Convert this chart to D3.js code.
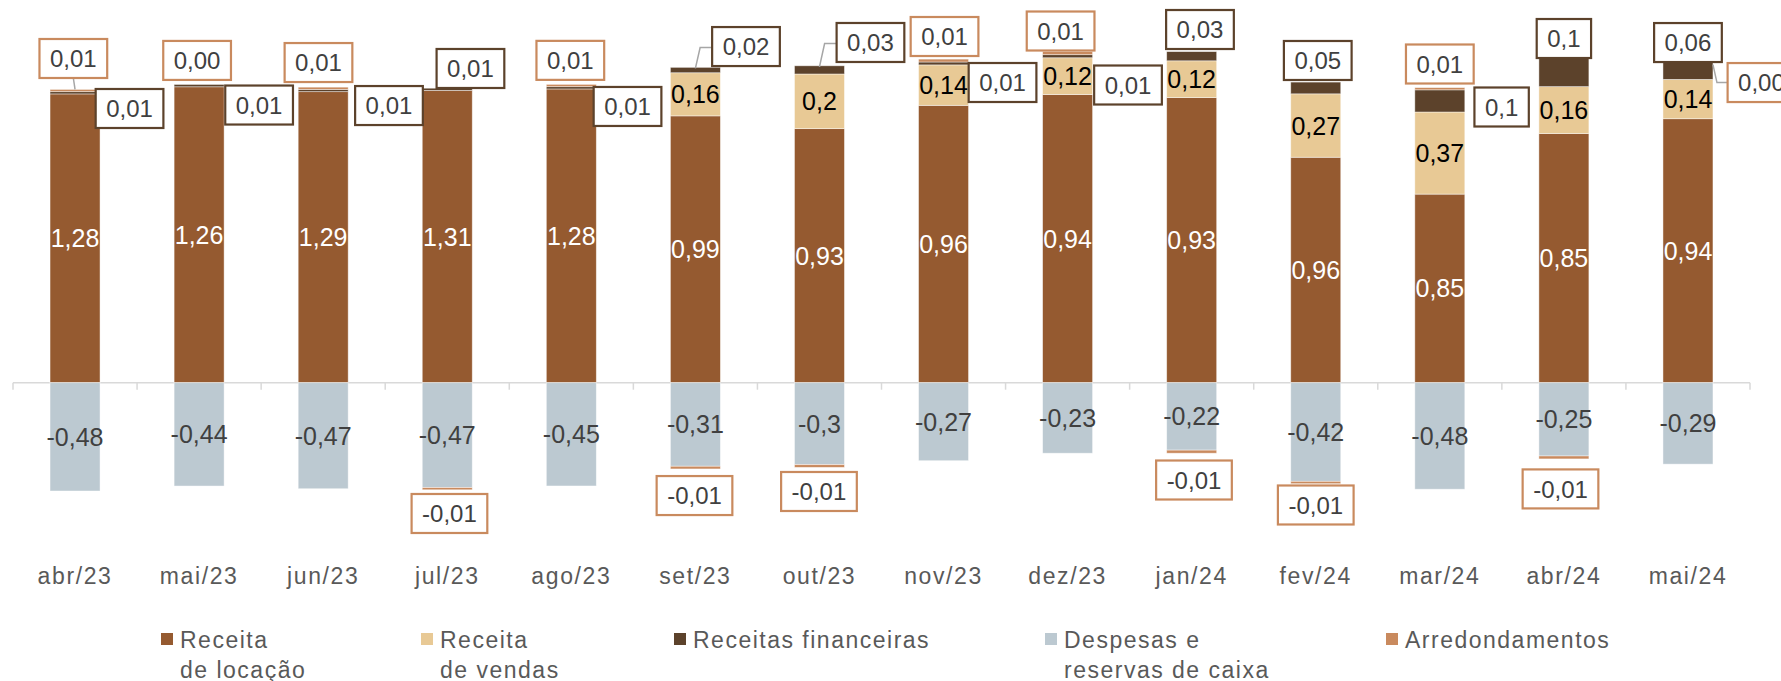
<!DOCTYPE html>
<html>
<head>
<meta charset="utf-8">
<script src="https://cdn.jsdelivr.net/npm/d3@7"></script>
<style>
    body { margin: 0; background: #fff; }
    text { font-family: "Liberation Sans", Arial, sans-serif; }
</style>
</head>
<body>
<div id="chart"></div>
<script>
"use strict";

// data
const meses = ["abr/23", "mai/23", "jun/23", "jul/23", "ago/23", "set/23", "out/23",
    "nov/23", "dez/23", "jan/24", "fev/24", "mar/24", "abr/24", "mai/24"];
const receitaLocacao = [1.28, 1.26, 1.29, 1.31, 1.28, 0.99, 0.93, 0.96, 0.94, 0.93, 0.96, 0.85, 0.85, 0.94];
const receitaVendas = [0, 0, 0, 0, 0, 0.16, 0.2, 0.14, 0.12, 0.12, 0.27, 0.37, 0.16, 0.14];
const receitasFinanceiras = [0.01, 0.01, 0.01, 0.01, 0.01, 0.02, 0.03, 0.01, 0.01, 0.03, 0.05, 0.1, 0.1, 0.06];
const despesas = [-0.48, -0.44, -0.47, -0.47, -0.45, -0.31, -0.3, -0.27, -0.23, -0.22, -0.42, -0.48, -0.25, -0.29];
const arredondamentos = [0.01, 0, 0.01, -0.01, 0.01, -0.01, -0.01, 0.01, 0.01, -0.01, -0.01, 0.01, -0.01, 0];
const legendLabels = [["Receita", "de locação"], ["Receita", "de vendas"], ["Receitas financeiras"],
    ["Despesas e", "reservas de caixa"], ["Arredondamentos"]];

// layout
const msm = { width: 1781, height: 681, left: 13, right: 1750, zeroY: 382.7, full: 401.6 };
const colors = {
    loc: "#955a30", vendas: "#e8c995", fin: "#5c422b", desp: "#bcc9d1", arr: "#c98a5e"
};
// callout box centre offsets from bar centre / stack edge, plus leader type
const finCallout = [[54.5, 19.1, ""], [60, 20.6, ""], [65.8, 18.4, ""], [23.2, -19.7, ""], [56.2, 22.1, ""],
    [50.6, -20.8, "elbowLeft"], [51, -23.3, "elbowLeft"], [59, 23.4, ""], [60.4, 33.4, ""], [8.3, -22.1, ""],
    [2, -21.6, ""], [61.8, 19.4, ""], [0, -18.8, ""], [0, -20, ""]];
const arrCallout = [[-1.7, -30.9, "down"], [-2, -24, ""], [-4.7, -24.6, ""], [2.2, 23.7, ""], [-1, -24, ""],
    [-0.9, 26.6, ""], [-0.5, 24.1, ""], [1, -22.6, ""], [-7, -20.6, ""], [2.3, 26.8, ""],
    [0, 21.3, ""], [0, -23.6, ""], [-3.4, 30, ""], [73.5, 20, "elbowRight"]];
const legendX = [161, 421, 674, 1045, 1386];

const svg = d3.select("#chart").append("svg")
    .attr("width", msm.width)
    .attr("height", msm.height);

const x = d3.scaleBand()
    .domain(meses)
    .range([msm.left, msm.right])
    .paddingInner(0.597)
    .paddingOuter(0.2985);

const y = d3.scaleLinear()
    .domain([-1, 1])
    .range([msm.zeroY + msm.full, msm.zeroY - msm.full]);

const comma = (v) => String(v).replace(".", ",");

// 100% stacked: every value is a share of the absolute total of its month
const bars = meses.map((m, i) => {
    const tot = receitaLocacao[i] + receitaVendas[i] + receitasFinanceiras[i]
        + Math.abs(despesas[i]) + Math.abs(arredondamentos[i]);
    const segs = [];
    let top = 0, bot = 0;
    const pos = [["loc", receitaLocacao[i]], ["vendas", receitaVendas[i]], ["fin", receitasFinanceiras[i]]];
    if (arredondamentos[i] > 0) pos.push(["arr", arredondamentos[i]]);
    pos.forEach(([k, v]) => {
        const s = v / tot;
        segs.push({ key: k, v: v, y0: top, y1: top + s });
        top += s;
    });
    const neg = [["desp", despesas[i]]];
    if (arredondamentos[i] < 0) neg.push(["arr", arredondamentos[i]]);
    neg.forEach(([k, v]) => {
        const s = v / tot;
        segs.push({ key: k, v: v, y0: bot + s, y1: bot });
        bot += s;
    });
    return { mes: m, i: i, segs: segs, top: top, bot: bot };
});

// axis line and ticks
svg.append("line")
    .attr("x1", msm.left).attr("x2", msm.right)
    .attr("y1", y(0)).attr("y2", y(0))
    .attr("stroke", "#d9d9d9").attr("stroke-width", 1.5);

const bounds = meses.map((m) => x(m) + x.bandwidth() / 2 - x.step() / 2);
bounds.push(msm.right);
svg.selectAll(".tick")
    .data(bounds)
    .enter()
    .append("line")
    .attr("x1", (d) => d).attr("x2", (d) => d)
    .attr("y1", y(0)).attr("y2", y(0) + 7)
    .attr("stroke", "#d9d9d9").attr("stroke-width", 1.5);

// bars
const g = svg.selectAll(".bar")
    .data(bars)
    .enter()
    .append("g")
    .attr("class", "bar");

g.selectAll("rect")
    .data((d) => d.segs.map((s) => Object.assign({ mes: d.mes }, s)))
    .enter()
    .append("rect")
    .attr("x", (d) => x(d.mes))
    .attr("width", x.bandwidth())
    .attr("y", (d) => y(d.y1))
    .attr("height", (d) => y(d.y0) - y(d.y1))
    .attr("fill", (d) => colors[d.key])
    .attr("stroke", "rgba(255,255,255,0.55)")
    .attr("stroke-width", 0.8);

// inner labels
const inner = [];
bars.forEach((b) => {
    b.segs.forEach((s) => {
        if (s.key === "loc" || s.key === "desp" || (s.key === "vendas" && s.v > 0)) {
            inner.push({ mes: b.mes, key: s.key, v: s.v, yc: (s.y0 + s.y1) / 2 });
        }
    });
});
svg.selectAll(".inner")
    .data(inner)
    .enter()
    .append("text")
    .attr("x", (d) => x(d.mes) + x.bandwidth() / 2)
    .attr("y", (d) => y(d.yc))
    .attr("dy", "0.36em")
    .attr("text-anchor", "middle")
    .style("font-size", "25px")
    .attr("fill", (d) => d.key === "loc" ? "#ffffff" : (d.key === "vendas" ? "#000000" : "#404040"))
    .text((d) => comma(d.v));

// callouts
function callout(b, label, off, stroke, edgeY) {
    const cx = x(b.mes) + x.bandwidth() / 2;
    const bx = cx + off[0];
    const by = edgeY + off[1];
    const grp = svg.append("g");
    const t = grp.append("text")
        .attr("x", bx).attr("y", by)
        .attr("dy", "0.36em")
        .attr("text-anchor", "middle")
        .style("font-size", "24px")
        .attr("fill", "#404040")
        .text(label);
    const w = t.node().getComputedTextLength() + 21;
    const h = 39;
    grp.insert("rect", "text")
        .attr("x", bx - w / 2).attr("y", by - h / 2)
        .attr("width", w).attr("height", h)
        .attr("fill", "#fff")
        .attr("stroke", stroke).attr("stroke-width", 2.2);
    let pts = null;
    if (off[2] === "down") {
        pts = [[bx, by + h / 2], [cx, edgeY]];
    } else if (off[2] === "elbowLeft") {
        pts = [[cx, edgeY + 1], [bx - w / 2 - 12, by + 1], [bx - w / 2, by + 1]];
    } else if (off[2] === "elbowRight") {
        pts = [[cx + x.bandwidth() / 2, edgeY + 2], [cx + x.bandwidth() / 2 + 4, by], [bx - w / 2, by]];
    }
    if (pts) {
        grp.insert("path", "rect")
            .attr("d", d3.line()(pts))
            .attr("fill", "none")
            .attr("stroke", "#a6a6a6")
            .attr("stroke-width", 1.5);
    }
}

bars.forEach((b) => {
    const i = b.i;
    callout(b, comma(receitasFinanceiras[i]), finCallout[i], colors.fin, y(b.top));
    const a = arredondamentos[i];
    callout(b, a.toFixed(2).replace(".", ","), arrCallout[i], colors.arr, a < 0 ? y(b.bot) : y(b.top));
});

// category labels
svg.selectAll(".cat")
    .data(meses)
    .enter()
    .append("text")
    .attr("x", (d) => x(d) + x.bandwidth() / 2)
    .attr("y", 584)
    .attr("text-anchor", "middle")
    .style("font-size", "23px")
    .style("letter-spacing", "1.6px")
    .attr("fill", "#595959")
    .text((d) => d);

// legend
const legendColors = [colors.loc, colors.vendas, colors.fin, colors.desp, colors.arr];
const lg = svg.selectAll(".legend")
    .data(legendLabels)
    .enter()
    .append("g")
    .attr("transform", (d, i) => "translate(" + legendX[i] + ",0)");

lg.append("rect")
    .attr("x", 0).attr("y", 633)
    .attr("width", 12).attr("height", 12)
    .attr("fill", (d, i) => legendColors[i]);

lg.each(function (d) {
    d3.select(this).selectAll("text")
        .data(d)
        .enter()
        .append("text")
        .attr("x", 19)
        .attr("y", (t, j) => 648 + j * 29.5)
        .style("font-size", "23px")
        .style("letter-spacing", "1.5px")
        .attr("fill", "#595959")
        .text((t) => t);
});
</script>
</body>
</html>
